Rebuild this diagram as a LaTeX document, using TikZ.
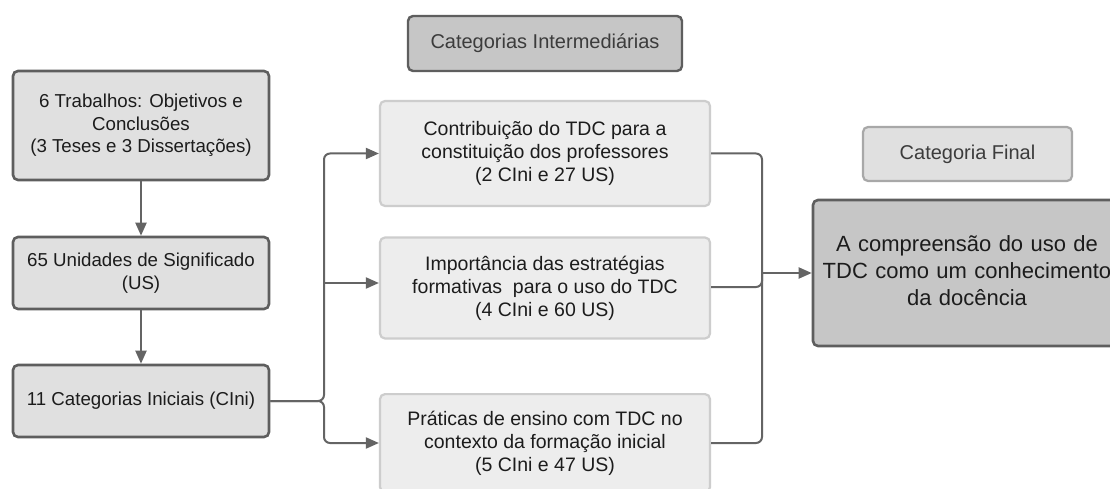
\documentclass[tikz,border=0pt]{standalone}
\usepackage{fontspec}
\setmainfont{Liberation Sans}
\usetikzlibrary{arrows.meta}
\definecolor{darkb}{HTML}{5E5E5E}
\definecolor{lightb}{HTML}{CDCDCD}
\definecolor{midb}{HTML}{A8A8A8}
\definecolor{fillA}{HTML}{E0E0E0}
\definecolor{fillB}{HTML}{EDEDED}
\definecolor{fillC}{HTML}{C6C6C6}
\definecolor{txt}{HTML}{1C1C1C}
\definecolor{txtg}{HTML}{3C3C3C}
\definecolor{conn}{HTML}{646464}
\tikzset{
  basebox/.style={rectangle, rounded corners=5pt, align=center, inner sep=2pt,
    text=txt, font=\fontsize{19.5}{23}\selectfont},
  leftbox/.style={basebox, draw=darkb, line width=2.6pt, fill=fillA, minimum width=256pt,
    font=\fontsize{18.7}{22.5}\selectfont},
  midbox/.style={basebox, draw=lightb, line width=2.2pt, fill=fillB, minimum width=330pt},
  headbox/.style={basebox, draw=darkb, line width=2.4pt, fill=fillC, text=txtg,
    font=\fontsize{20}{24}\selectfont},
  finhead/.style={basebox, draw=midb, line width=2.2pt, fill=fillA, text=txtg,
    font=\fontsize{20}{24}\selectfont},
  finbox/.style={basebox, draw=darkb, line width=2.6pt, fill=fillC},
  fintext/.style={basebox, font=\fontsize{22}{27}\selectfont},
  link/.style={draw=conn, line width=2pt, rounded corners=6pt},
  arr/.style={link, -{Triangle[length=13pt,width=11pt]}},
}
\begin{document}
\begin{tikzpicture}[x=1pt,y=-1pt]
\useasboundingbox (0,0) rectangle (1110,489);
\clip (0,0) rectangle (1110,489);
\fill[white] (0,0) rectangle (1110,489);

\node[leftbox, minimum height=109pt] (b1) at (141,125.5) {6 Trabalhos: Objetivos e\\Conclusões\\(3 Teses e 3 Dissertações)};
\node[leftbox, minimum height=72pt] (b2) at (141,273) {65 Unidades de Significado\\(US)};
\node[leftbox, minimum height=72pt] (b3) at (141,401) {11 Categorias Iniciais (CIni)};

\node[headbox, minimum width=274pt, minimum height=55pt] (hi) at (545,43.5) {Categorias Intermediárias};

\node[midbox, minimum height=105pt] (m1) at (545,153.5) {Contribuição do TDC para a\\constituição dos professores\\(2 CIni e 27 US)};
\node[midbox, minimum height=101pt] (m2) at (545,288) {Importância das estratégias\\formativas\ \ para o uso do TDC\\(4 CIni e 60 US)};
\node[midbox, minimum height=98pt, anchor=north] (m3) at (545,393) {};
\node[basebox, anchor=center] (m3t) at (545,443) {Práticas de ensino com TDC no\\contexto da formação inicial\\(5 CIni e 47 US)};

\node[finhead, minimum width=209pt, minimum height=54pt] (hf) at (967.5,154) {Categoria Final};
\node[finbox, minimum width=308pt, minimum height=146pt] (fb) at (967,273) {};
\node[fintext, text width=330pt] (fbt) at (967,271) {A compreensão do uso de\\TDC como um conhecimento\\da docência};

\draw[arr] (b1.south) -- (b2.north);
\draw[arr] (b2.south) -- (b3.north);

\coordinate (jl) at (324,401);
\coordinate (jr) at (762,273);
\draw[arr] (b3.east) -- (jl) |- (m1.west);
\draw[arr] (b3.east) -- (jl) |- (m3.west |- m3t.center);
\draw[arr] (324,283) -- ([yshift=5pt]m2.west);

\draw[link] (m1.east) -| (jr);
\draw[link] (m3.east |- m3t.center) -| (jr);
\draw[link] ([yshift=1pt]m2.east) -| (jr);
\draw[arr] (jr) -- (fb.west);
\end{tikzpicture}
\end{document}
